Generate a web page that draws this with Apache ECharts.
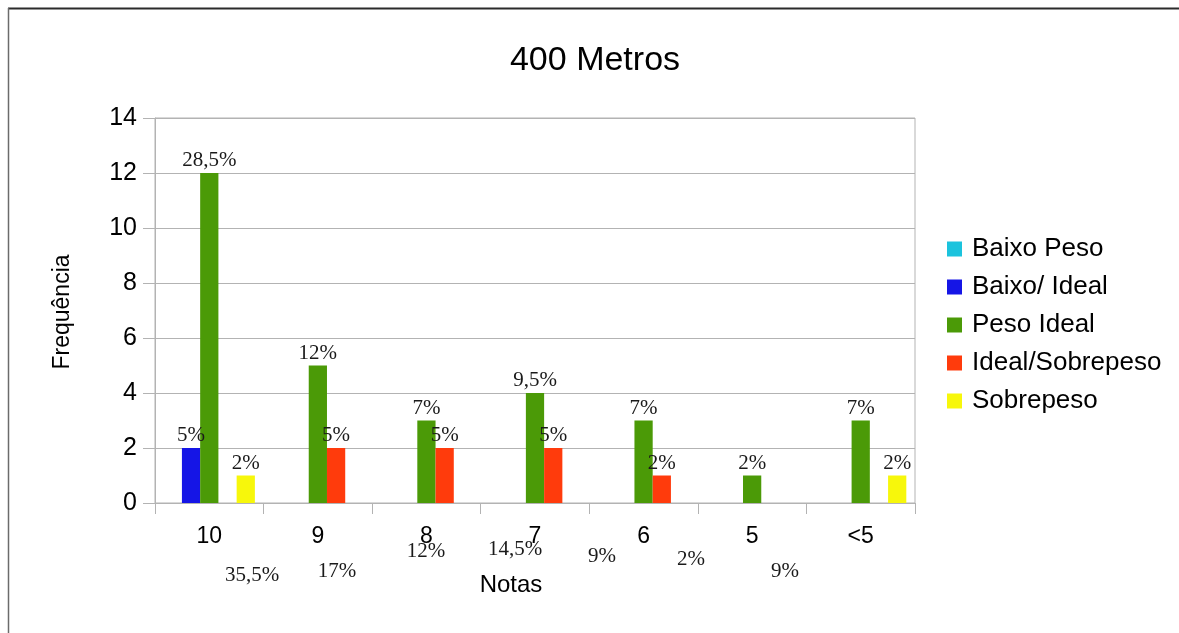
<!DOCTYPE html>
<html>
<head>
<meta charset="utf-8">
<script src="https://cdn.jsdelivr.net/npm/echarts@6/dist/echarts.min.js"></script>
<style>
  html, body { margin: 0; padding: 0; background: #ffffff; }
  #chart { width: 1179px; height: 633px; }
</style>
</head>
<body>
<div id="chart"></div>
<script>
// Grades (x axis categories)
const categories = ['10', '9', '8', '7', '6', '5', '<5'];

// Frequency per weight class
const baixoPeso       = [null, null, null, null, null, null, null];
const baixoIdeal      = [2, null, null, null, null, null, null];
const pesoIdeal       = [12, 5, 3, 4, 3, 1, 3];
const idealSobrepeso  = [null, 2, 2, 2, 1, null, null];
const sobrepeso       = [1, null, null, null, null, null, 1];

// Percentage labels shown on top of each bar
const baixoIdealPct     = ['5%', '', '', '', '', '', ''];
const pesoIdealPct      = ['28,5%', '12%', '7%', '9,5%', '7%', '2%', '7%'];
const idealSobrepesoPct = ['', '5%', '5%', '5%', '2%', '', ''];
const sobrepesoPct      = ['2%', '', '', '', '', '', '2%'];

// Total percentage per grade
const totalPct = ['35,5%', '17%', '12%', '14,5%', '9%', '2%', '9%'];

// Y axis ticks
const yMin = 0, yMax = 14, yStep = 2;

const seriesNames = ['Baixo Peso', 'Baixo/ Ideal', 'Peso Ideal', 'Ideal/Sobrepeso', 'Sobrepeso'];
const seriesColors = ['#1bc3dd', '#1515e6', '#4b9a07', '#ff3b0c', '#f7f70b'];
const seriesData = [baixoPeso, baixoIdeal, pesoIdeal, idealSobrepeso, sobrepeso];
const seriesPct = [null, baixoIdealPct, pesoIdealPct, idealSobrepesoPct, sobrepesoPct];

// Placement of the total labels below the axis (pixel centres)
const totalPos = [[252, 575], [337, 571], [426, 551], [515, 549], [602, 556], [691, 559], [785, 571]];

const chart = echarts.init(document.getElementById('chart'), null, { renderer: 'canvas' });

const sans = '"Liberation Sans", Arial, sans-serif';
const serif = '"Liberation Serif", "Times New Roman", serif';

const option = {
  backgroundColor: '#ffffff',
  animation: false,
  legend: {
    orient: 'vertical',
    left: 942,
    top: 231,
    itemWidth: 15,
    itemHeight: 15,
    itemGap: 12,
    icon: 'rect',
    data: seriesNames,
    textStyle: { fontFamily: sans, fontSize: 26, color: '#000000', lineHeight: 26, padding: [0, 0, 0, 5] }
  },
  grid: {
    left: 155, right: 264, top: 118, bottom: 130,
    show: true, borderColor: '#b3b3b3', borderWidth: 1
  },
  xAxis: {
    type: 'category',
    data: categories,
    axisLine: { lineStyle: { color: '#b3b3b3', width: 1 } },
    axisTick: { show: true, length: 11, lineStyle: { color: '#b3b3b3' } },
    axisLabel: { fontFamily: sans, fontSize: 23, color: '#000000', margin: 22 },
    splitLine: { show: false }
  },
  yAxis: {
    type: 'value',
    min: yMin, max: yMax, interval: yStep,
    axisLine: { show: true, lineStyle: { color: '#b3b3b3', width: 1 } },
    axisTick: { show: true, length: 12, lineStyle: { color: '#b3b3b3' } },
    axisLabel: { fontFamily: sans, fontSize: 25, color: '#000000', margin: 18 },
    splitLine: { show: true, lineStyle: { color: '#b3b3b3', width: 1 } }
  },
  series: seriesNames.map((name, i) => ({
    name: name,
    type: 'bar',
    data: seriesData[i],
    barGap: '0%',
    barCategoryGap: '16%',
    itemStyle: { color: seriesColors[i] },
    label: {
      show: !!seriesPct[i],
      position: 'top',
      distance: 2,
      fontFamily: serif,
      fontSize: 21,
      color: '#1a1a1a',
      formatter: p => (seriesPct[i] ? seriesPct[i][p.dataIndex] : '')
    }
  })),
  graphic: [
    // outer frame lines
    { type: 'line', shape: { x1: 8, y1: 8.5, x2: 1179, y2: 8.5 }, style: { stroke: '#2b2b2b', lineWidth: 2 } },
    { type: 'line', shape: { x1: 8.5, y1: 8, x2: 8.5, y2: 633 }, style: { stroke: '#6b6b6b', lineWidth: 1.5 } },
    // chart title
    { type: 'text', x: 595, y: 61, style: { text: '400 Metros', fontFamily: sans, fontSize: 34, fill: '#000000', align: 'center', verticalAlign: 'middle' } },
    // axis names
    { type: 'text', x: 511, y: 585, style: { text: 'Notas', fontFamily: sans, fontSize: 24, fill: '#000000', align: 'center', verticalAlign: 'middle' } },
    { type: 'text', x: 63, y: 312, rotation: Math.PI / 2, style: { text: 'Frequência', fontFamily: sans, fontSize: 23, fill: '#000000', align: 'center', verticalAlign: 'middle' } }
  ].concat(totalPct.map((t, i) => ({
    type: 'text',
    x: totalPos[i][0],
    y: totalPos[i][1],
    style: { text: t, fontFamily: serif, fontSize: 21, fill: '#1a1a1a', align: 'center', verticalAlign: 'middle' }
  })))
};

chart.setOption(option);
</script>
</body>
</html>
